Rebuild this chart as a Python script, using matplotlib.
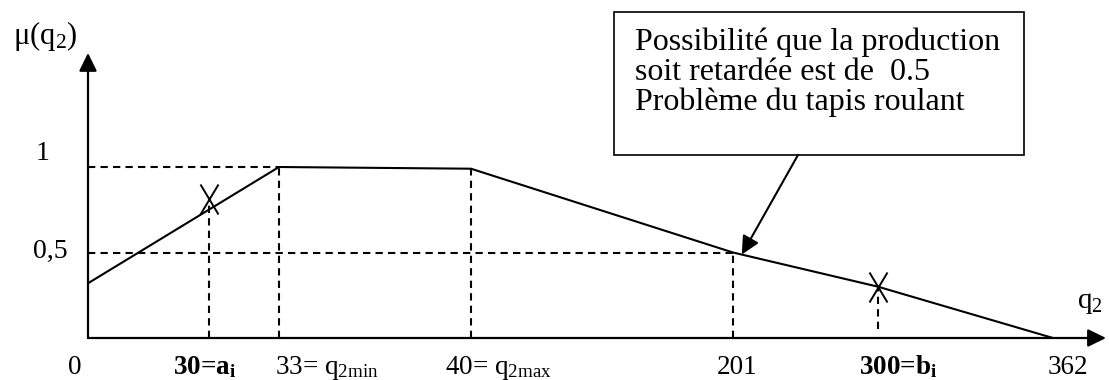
import numpy as np
import matplotlib
matplotlib.use("Agg")
import matplotlib.pyplot as plt
from matplotlib.path import Path
from matplotlib.patches import Rectangle

plt.rcParams["font.family"] = "Liberation Serif"
plt.rcParams["mathtext.fontset"] = "custom"
plt.rcParams["mathtext.rm"] = "Liberation Serif"
plt.rcParams["mathtext.default"] = "regular"

# membership function of q2
q_points = [0, 33, 40, 201, 300, 362]
mu_points = [0.32, 1.0, 0.99, 0.5, 0.30, 0.0]

# crossed values a_i and b_i
q_marks = [30, 300]
mu_marks = [0.81, 0.30]

tick_values = [0, 30, 33, 40, 201, 300, 362]
tick_labels = ["0", "30=a$_i$", "33= q$_{2min}$", "40= q$_{2max}$",
               "201", "300=b$_i$", "362"]
tick_bold = [False, True, False, False, False, True, False]

note_lines = ["Possibilité que la production",
              "soit retardée est de  0.5",
              "Problème du tapis roulant"]

# horizontal layout: the q axis is schematic, not to scale
tick_px = [88, 209, 279, 471, 733, 878, 1053]
label_dx = [-13, -4, -4, -26, 4, -19, 15]
label_ha = ["center", "center", "left", "left", "center", "left", "center"]
W, H = 1109, 380


def to_px(q):
    q = np.asarray(q, dtype=float)
    px = np.interp(q, tick_values, tick_px)
    s_lo = (tick_px[1] - tick_px[0]) / (tick_values[1] - tick_values[0])
    s_hi = (tick_px[-1] - tick_px[-2]) / (tick_values[-1] - tick_values[-2])
    px = np.where(q < tick_values[0], tick_px[0] + (q - tick_values[0]) * s_lo, px)
    px = np.where(q > tick_values[-1], tick_px[-1] + (q - tick_values[-1]) * s_hi, px)
    return px


def from_px(px):
    px = np.asarray(px, dtype=float)
    q = np.interp(px, tick_px, tick_values)
    s_lo = (tick_values[1] - tick_values[0]) / (tick_px[1] - tick_px[0])
    s_hi = (tick_values[-1] - tick_values[-2]) / (tick_px[-1] - tick_px[-2])
    q = np.where(px < tick_px[0], tick_values[0] + (px - tick_px[0]) * s_lo, q)
    q = np.where(px > tick_px[-1], tick_values[-1] + (px - tick_px[-1]) * s_hi, q)
    return q


fig = plt.figure(figsize=(W / 100, H / 100), dpi=100)
ax = fig.add_axes([0, 0, 1, 1])
ax.set_xscale("function", functions=(to_px, from_px))
ax.set_xlim(float(from_px(0)), float(from_px(W)))
ax.set_ylim(-42 / 171, (H - 42) / 171)
ax.axis("off")

axis_arrow = dict(arrowstyle="-|>,head_length=0.55,head_width=0.27",
                  color="black", lw=1.6, shrinkA=0, shrinkB=0, mutation_scale=20)
x_end = float(from_px(1106))
y_end = 1.667
ax.annotate("", xy=(x_end, 0), xytext=(0, 0), arrowprops=axis_arrow)
ax.annotate("", xy=(0, y_end), xytext=(0, 0), arrowprops=axis_arrow)

dash = dict(color="black", lw=1.5, dashes=(3.5, 2.5))

# guide lines to the axes
ax.plot([0, 33], [1, 1], **dash)
ax.plot([0, 201], [0.5, 0.5], **dash)
for q, m in zip(q_points, mu_points):
    if q in (33, 40, 201):
        ax.plot([q, q], [0, m], **dash)
ax.plot([q_marks[0], q_marks[0]], [0, mu_marks[0]], **dash)
ax.plot([q_marks[1], q_marks[1]], [0.05, mu_marks[1]], **dash)

ax.plot(q_points, mu_points, color="black", lw=1.5, solid_capstyle="butt")

cross = Path([(-0.6, -1), (0.6, 1), (-0.6, 1), (0.6, -1)],
             [Path.MOVETO, Path.LINETO, Path.MOVETO, Path.LINETO])
ax.plot(q_marks, mu_marks, linestyle="none", marker=cross, markersize=21.6,
        markeredgewidth=1.4, color="black")

for q, lab, bold, dx, ha in zip(tick_values, tick_labels, tick_bold, label_dx, label_ha):
    ax.annotate(lab, xy=(q, 0), xytext=(dx, -36), textcoords="offset pixels",
                ha=ha, va="baseline", fontsize=19.5,
                fontweight="bold" if bold else "normal")

ax.annotate("1", xy=(0, 1), xytext=(-45, 14), textcoords="offset pixels",
            ha="center", va="center", fontsize=20)
ax.annotate("0,5", xy=(0, 0.5), xytext=(-38, 1), textcoords="offset pixels",
            ha="center", va="center", fontsize=20)
ax.annotate("μ(q$_2$)", xy=(0, y_end), xytext=(-43, 17), textcoords="offset pixels",
            ha="center", va="center", fontsize=22)
ax.annotate("q$_2$", xy=(x_end, 0), xytext=(-16, 35), textcoords="offset pixels",
            ha="center", va="center", fontsize=21)

# note box with its pointer to the falling edge
box = Rectangle((614 / W, 1 - 155 / H), 410 / W, 143 / H, transform=ax.transAxes,
                fill=False, edgecolor="black", lw=1.2)
ax.add_patch(box)
for i, line in enumerate(note_lines):
    ax.text(635 / W, 1 - (50 + 30 * i) / H, line, transform=ax.transAxes,
            ha="left", va="baseline", fontsize=23)

q_tip = 207
ax.annotate("", xy=(q_tip, np.interp(q_tip, q_points, mu_points)),
            xytext=(798 / W, 1 - 155 / H), textcoords="axes fraction",
            arrowprops=dict(arrowstyle="-|>,head_length=0.55,head_width=0.27",
                            color="black", lw=1.5, shrinkA=0, shrinkB=0,
                            mutation_scale=20))

fig.savefig("out.png", dpi=100)
